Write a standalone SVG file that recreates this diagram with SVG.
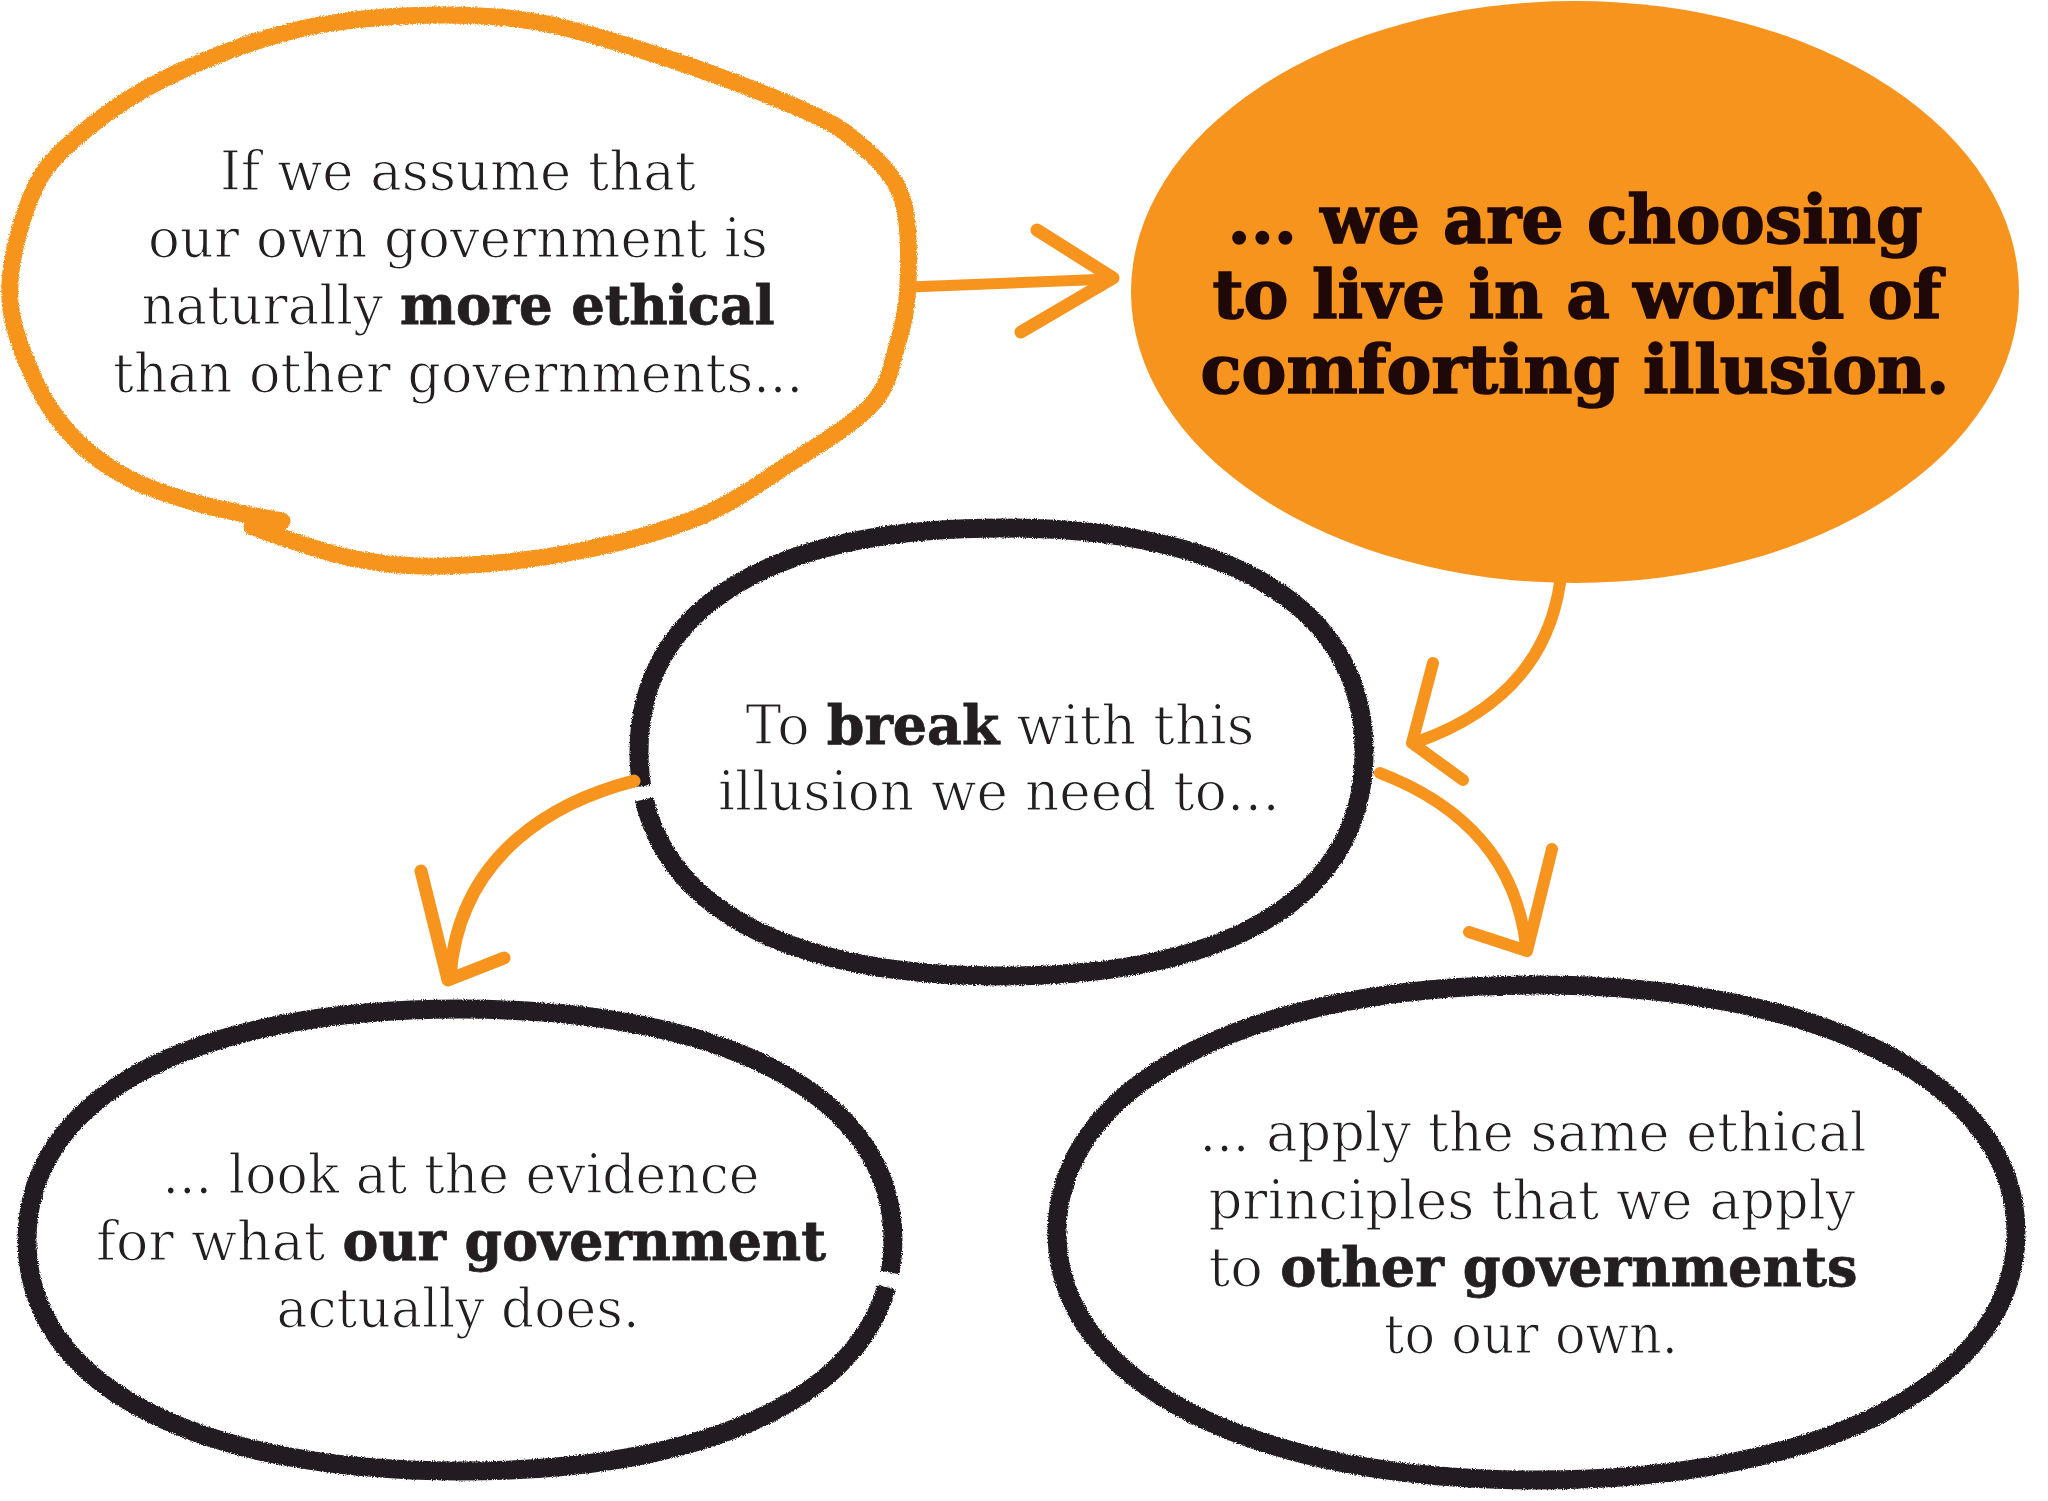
<svg xmlns="http://www.w3.org/2000/svg" width="2048" height="1501" viewBox="0 0 2048 1501">
  <defs>
    <filter id="rough" x="-5%" y="-5%" width="110%" height="110%">
      <feTurbulence type="fractalNoise" baseFrequency="0.9" numOctaves="2" seed="3" result="n"/>
      <feDisplacementMap in="SourceGraphic" in2="n" scale="4" xChannelSelector="R" yChannelSelector="G"/>
    </filter>
  </defs>
  <style>
    .outline-o { fill: none; stroke: #F7941E; stroke-width: 17; stroke-linecap: round; stroke-linejoin: round; }
    .outline-k { fill: none; stroke: #231F20; stroke-width: 19; stroke-linecap: butt; stroke-linejoin: round; }
    .arrow { fill: none; stroke: #F7941E; stroke-linecap: round; stroke-linejoin: round; }
    .t { font-family: "DejaVu Serif", "Liberation Serif", serif; font-size: 55px; fill: #231F20; text-anchor: middle; stroke: #FFFFFF; stroke-width: 1.2px; }
    .b { font-weight: bold; stroke: #231F20; stroke-width: 0.8px; }
    .tb { font-family: "DejaVu Serif", "Liberation Serif", serif; font-size: 67px; font-weight: bold; fill: #1E0808; stroke: #1E0808; stroke-width: 1.6px; text-anchor: middle; }
  </style>
  <rect width="2048" height="1501" fill="#FFFFFF"/>

  <g id="node-assume">
    <path class="outline-o" filter="url(#rough)" d="M 282 521 C 268.3 518.2 225.7 511.2 200 504 C 174.3 496.8 149 489 128 478 C 107 467 89.3 453.8 74 438 C 58.7 422.2 46.7 406 36 383 C 25.3 360 11.7 328.8 10 300 C 8.3 271.2 17 235.8 26 210 C 35 184.2 43 168 66 147 C 89 126 120 101 162 80 C 204 59 264 35 320 25 C 376 15 444 13 497 17 C 550 21 588 34 638 49 C 688 64 757 90 794 106 C 831 122 838 126 856 141 C 874 156 894 174 902 198 C 910 222 909 260 908 285 C 907 310 903 327 897 346 C 891 365 890 383 874 402 C 858 421 825 441 795 460 C 765 479 736 502 699 517 C 662 532 616 544 574 552 C 531.5 560.2 483.2 565 446 566 C 408.8 567 383.3 564.5 351 558 C 318.7 551.5 268.5 532.2 252 527"/>
    <text class="t" x="458" y="190" textLength="476" lengthAdjust="spacingAndGlyphs">If we assume that</text>
    <text class="t" x="458" y="257" textLength="620" lengthAdjust="spacingAndGlyphs">our own government is</text>
    <text class="t" x="458" y="324" textLength="633" lengthAdjust="spacingAndGlyphs">naturally <tspan class="b">more ethical</tspan></text>
    <text class="t" x="458" y="392" textLength="690" lengthAdjust="spacingAndGlyphs">than other governments...</text>
  </g>

  <g id="node-illusion">
    <ellipse cx="1575" cy="292" rx="444" ry="291" fill="#F7941E"/>
    <text class="tb" x="1575" y="243" textLength="695" lengthAdjust="spacingAndGlyphs">... we are choosing</text>
    <text class="tb" x="1577" y="318" textLength="729" lengthAdjust="spacingAndGlyphs">to live in a world of</text>
    <text class="tb" x="1575" y="393" textLength="749" lengthAdjust="spacingAndGlyphs">comforting illusion.</text>
  </g>

  <g id="node-break">
    <path class="outline-k" filter="url(#rough)" pathLength="1000" stroke-dasharray="18 7 1000" d="M 639 752 C 639 895.4 769.5 976 1001.5 976 C 1233.5 976 1364 895.4 1364 752 C 1364 608.6 1233.5 528 1001.5 528 C 769.5 528 639 608.6 639 752"/>
    <text class="t" x="1000" y="744" textLength="509" lengthAdjust="spacingAndGlyphs">To <tspan class="b">break</tspan> with this</text>
    <text class="t" x="999" y="810" textLength="562" lengthAdjust="spacingAndGlyphs">illusion we need to…</text>
  </g>

  <g id="node-evidence">
    <path class="outline-k" filter="url(#rough)" pathLength="1000" stroke-dasharray="15 7 1000" d="M 893 1240 C 893 1383.2 728.5 1471 460 1471 C 191.5 1471 27 1383.2 27 1240 C 27 1096.8 191.5 1009 460 1009 C 728.5 1009 893 1096.8 893 1240"/>
    <text class="t" x="461" y="1193" textLength="597" lengthAdjust="spacingAndGlyphs">... look at the evidence</text>
    <text class="t" x="461" y="1260" textLength="730" lengthAdjust="spacingAndGlyphs">for what <tspan class="b">our government</tspan></text>
    <text class="t" x="458" y="1327" textLength="363" lengthAdjust="spacingAndGlyphs">actually does.</text>
  </g>

  <g id="node-principles">
    <path class="outline-k" filter="url(#rough)" d="M 2016 1232.5 C 2016 1381 1824.2 1480 1536.5 1480 C 1248.8 1480 1057 1381 1057 1232.5 C 1057 1084 1248.8 985 1536.5 985 C 1824.2 985 2016 1084 2016 1232.5 Z"/>
    <text class="t" x="1533" y="1151" textLength="667" lengthAdjust="spacingAndGlyphs">... apply the same ethical</text>
    <text class="t" x="1532" y="1219" textLength="647" lengthAdjust="spacingAndGlyphs">principles that we apply</text>
    <text class="t" x="1533" y="1286" textLength="649" lengthAdjust="spacingAndGlyphs">to <tspan class="b">other governments</tspan></text>
    <text class="t" x="1531" y="1353" textLength="294" lengthAdjust="spacingAndGlyphs">to our own.</text>
  </g>

  <g id="connectors">
    <g id="arrow-assume-illusion">
      <path class="arrow" stroke-width="11" d="M 910 287 L 1110 279"/>
      <path class="arrow" stroke-width="13" d="M 1037 230 L 1113 278 L 1021 332"/>
    </g>
    <g id="arrow-illusion-break">
      <path class="arrow" stroke-width="12" d="M 1560 583 C 1550 650 1510 710 1414 743"/>
      <path class="arrow" stroke-width="12" d="M 1433 663 L 1412 743 L 1463 780"/>
    </g>
    <g id="arrow-break-evidence">
      <path class="arrow" stroke-width="13" d="M 634 781 C 560 800 460 850 450 976"/>
      <path class="arrow" stroke-width="13" d="M 421 871 L 448 980 L 504 958"/>
    </g>
    <g id="arrow-break-principles">
      <path class="arrow" stroke-width="12" d="M 1380 773 C 1450 800 1515 850 1526 946"/>
      <path class="arrow" stroke-width="12" d="M 1552 849 L 1527 951 L 1469 932"/>
    </g>
  </g>
</svg>
